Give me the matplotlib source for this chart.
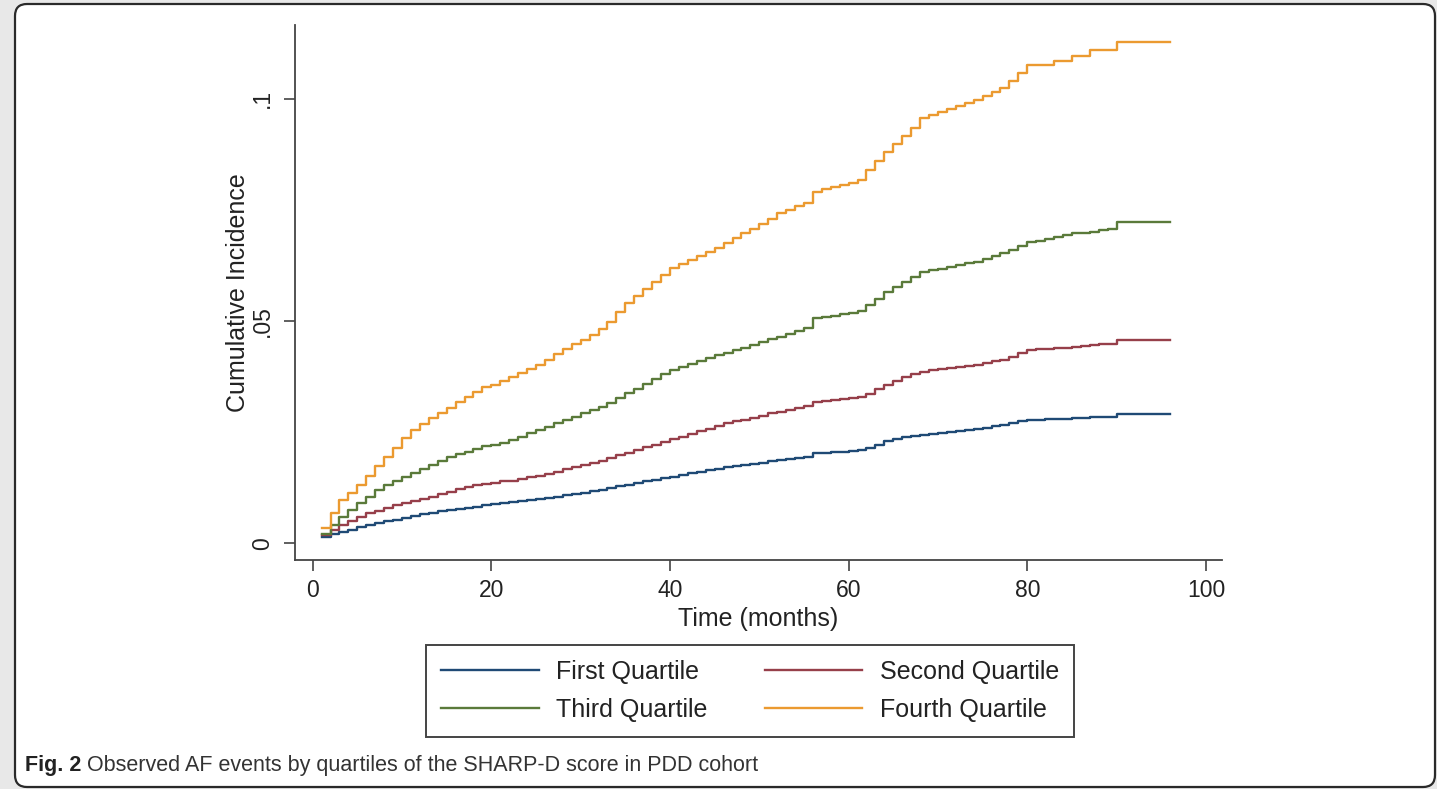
import numpy as np
import matplotlib
matplotlib.use('Agg')
import matplotlib.pyplot as plt
from matplotlib.patches import FancyBboxPatch
from matplotlib.transforms import IdentityTransform

plt.rcParams['font.family'] = ['Liberation Sans', 'DejaVu Sans']

# 随访月份 1..96
months = np.arange(1, 97)

# 各四分位组的累计发生率（逐月）
q1_first = [
    0.0015, 0.0020, 0.0026, 0.0031, 0.0036, 0.0041, 0.0045, 0.0049, 0.0053, 0.0057,
    0.0061, 0.0065, 0.0069, 0.0072, 0.0074, 0.0077, 0.0079, 0.0082, 0.0085, 0.0088,
    0.0090, 0.0092, 0.0094, 0.0097, 0.0099, 0.0102, 0.0105, 0.0108, 0.0111, 0.0114,
    0.0117, 0.0120, 0.0124, 0.0128, 0.0132, 0.0136, 0.0140, 0.0143, 0.0146, 0.0150,
    0.0153, 0.0157, 0.0160, 0.0164, 0.0168, 0.0172, 0.0174, 0.0176, 0.0179, 0.0181,
    0.0184, 0.0187, 0.0189, 0.0191, 0.0193, 0.0202, 0.0203, 0.0205, 0.0206, 0.0207,
    0.0209, 0.0215, 0.0222, 0.0229, 0.0234, 0.0239, 0.0242, 0.0244, 0.0246, 0.0248,
    0.0250, 0.0252, 0.0254, 0.0256, 0.0260, 0.0263, 0.0266, 0.0270, 0.0274, 0.0277,
    0.0278, 0.0279, 0.0280, 0.0280, 0.0281, 0.0282, 0.0283, 0.0284, 0.0285, 0.0290,
    0.0290, 0.0290, 0.0290, 0.0290, 0.0290, 0.0290,
]
q2_second = [
    0.0019, 0.0030, 0.0041, 0.0050, 0.0059, 0.0067, 0.0073, 0.0079, 0.0085, 0.0091,
    0.0096, 0.0100, 0.0105, 0.0110, 0.0115, 0.0121, 0.0126, 0.0130, 0.0133, 0.0136,
    0.0139, 0.0141, 0.0144, 0.0148, 0.0151, 0.0156, 0.0161, 0.0166, 0.0171, 0.0176,
    0.0181, 0.0186, 0.0192, 0.0198, 0.0204, 0.0210, 0.0216, 0.0222, 0.0228, 0.0234,
    0.0240, 0.0246, 0.0252, 0.0258, 0.0264, 0.0270, 0.0274, 0.0278, 0.0282, 0.0287,
    0.0292, 0.0296, 0.0300, 0.0304, 0.0308, 0.0318, 0.0320, 0.0322, 0.0324, 0.0326,
    0.0328, 0.0335, 0.0346, 0.0356, 0.0365, 0.0375, 0.0381, 0.0386, 0.0389, 0.0391,
    0.0394, 0.0396, 0.0399, 0.0401, 0.0405, 0.0409, 0.0412, 0.0420, 0.0428, 0.0435,
    0.0436, 0.0437, 0.0439, 0.0440, 0.0442, 0.0444, 0.0446, 0.0448, 0.0449, 0.0457,
    0.0457, 0.0457, 0.0457, 0.0457, 0.0457, 0.0457,
]
q3_third = [
    0.0022, 0.0042, 0.0060, 0.0075, 0.0090, 0.0105, 0.0120, 0.0130, 0.0140, 0.0149,
    0.0157, 0.0168, 0.0177, 0.0186, 0.0195, 0.0200, 0.0206, 0.0212, 0.0218, 0.0222,
    0.0225, 0.0232, 0.0240, 0.0247, 0.0255, 0.0262, 0.0270, 0.0277, 0.0285, 0.0292,
    0.0299, 0.0307, 0.0316, 0.0326, 0.0337, 0.0348, 0.0359, 0.0369, 0.0380, 0.0390,
    0.0397, 0.0404, 0.0411, 0.0417, 0.0423, 0.0428, 0.0434, 0.0440, 0.0446, 0.0452,
    0.0459, 0.0465, 0.0471, 0.0478, 0.0484, 0.0506, 0.0509, 0.0512, 0.0515, 0.0518,
    0.0522, 0.0535, 0.0550, 0.0566, 0.0577, 0.0588, 0.0600, 0.0611, 0.0615, 0.0618,
    0.0622, 0.0626, 0.0630, 0.0633, 0.0640, 0.0646, 0.0652, 0.0660, 0.0669, 0.0678,
    0.0680, 0.0684, 0.0690, 0.0693, 0.0697, 0.0699, 0.0701, 0.0704, 0.0707, 0.0722,
    0.0722, 0.0722, 0.0722, 0.0722, 0.0722, 0.0722,
]
q4_fourth = [
    0.0034, 0.0067, 0.0097, 0.0112, 0.0130, 0.0152, 0.0173, 0.0195, 0.0215, 0.0236,
    0.0255, 0.0268, 0.0281, 0.0292, 0.0305, 0.0317, 0.0330, 0.0341, 0.0352, 0.0356,
    0.0364, 0.0373, 0.0382, 0.0392, 0.0402, 0.0412, 0.0425, 0.0438, 0.0448, 0.0458,
    0.0468, 0.0483, 0.0498, 0.0520, 0.0540, 0.0556, 0.0572, 0.0588, 0.0604, 0.0619,
    0.0628, 0.0637, 0.0646, 0.0655, 0.0664, 0.0675, 0.0686, 0.0697, 0.0708, 0.0719,
    0.0730, 0.0742, 0.0750, 0.0758, 0.0765, 0.0791, 0.0796, 0.0801, 0.0806, 0.0811,
    0.0817, 0.0840, 0.0860, 0.0881, 0.0898, 0.0915, 0.0935, 0.0956, 0.0963, 0.0970,
    0.0977, 0.0984, 0.0991, 0.0997, 0.1006, 0.1015, 0.1023, 0.1040, 0.1058, 0.1076,
    0.1076, 0.1076, 0.1085, 0.1085, 0.1096, 0.1096, 0.1110, 0.1110, 0.1110, 0.1127,
    0.1127, 0.1127, 0.1127, 0.1127, 0.1127, 0.1127,
]

labels = ['First Quartile', 'Second Quartile', 'Third Quartile', 'Fourth Quartile']
colors = ['#1f4a75', '#963f4a', '#5a7a3a', '#eb9a30']

x_ticks = [0, 20, 40, 60, 80, 100]
y_ticks = [0, 0.05, 0.1]
y_tick_labels = ['0', '.05', '.1']

caption_bold = 'Fig. 2'
caption_text = 'Observed AF events by quartiles of the SHARP-D score in PDD cohort'

W, H = 1437, 789
fig = plt.figure(figsize=(W / 100, H / 100), dpi=100)
fig.patch.set_facecolor('#e8e8e8')

# 外框（圆角），放在坐标轴下面
frame = FancyBboxPatch((15, 2), 1420, 783, boxstyle='round,pad=0,rounding_size=12',
                       transform=IdentityTransform(), facecolor='white',
                       edgecolor='#2a2a2a', linewidth=1.6, zorder=-5)
fig.patches.append(frame)

ax = fig.add_axes([295 / W, 1 - 560 / H, (1222 - 295) / W, (560 - 25) / H])
ax.set_facecolor('none')
ax.set_zorder(2)

series = [q1_first, q2_second, q3_third, q4_fourth]
lines = []
for vals, lab, col in zip(series, labels, colors):
    ln, = ax.step(months, vals, where='post', color=col, linewidth=1.7, label=lab)
    lines.append(ln)

ax.set_xlim(-1.98, 101.8)
ax.set_ylim(-0.00376, 0.11658)
ax.set_xticks(x_ticks)
ax.set_yticks(y_ticks)
ax.set_yticklabels(y_tick_labels, rotation=90, va='center')

for side in ['top', 'right']:
    ax.spines[side].set_visible(False)
for side in ['left', 'bottom']:
    ax.spines[side].set_color('#444444')
    ax.spines[side].set_linewidth(1.3)

ax.tick_params(axis='both', colors='#444444', labelcolor='#222222', labelsize=16.5,
               length=8, width=1.2)
ax.tick_params(axis='x', pad=6)
ax.tick_params(axis='y', pad=7)

ax.set_xlabel('Time (months)', fontsize=18, color='#222222', labelpad=3)
ax.set_ylabel('Cumulative Incidence', fontsize=18, color='#222222', labelpad=0.5)

# 图例按行排列：第一行 First/Second，第二行 Third/Fourth
order = [0, 2, 1, 3]
leg = fig.legend(handles=[lines[i] for i in order], labels=[labels[i] for i in order],
                 ncol=2, loc='upper left',
                 bbox_to_anchor=(426 / W, 1 - 645 / H), borderaxespad=0,
                 fontsize=18, frameon=True, fancybox=False, framealpha=1,
                 edgecolor='#444444', handlelength=3.9, handletextpad=0.7,
                 columnspacing=2.3, labelspacing=0.55, borderpad=0.6)
leg.get_frame().set_linewidth(1.4)
leg.set_zorder(3)
for t in leg.get_texts():
    t.set_color('#222222')

# 图注：粗体编号后接说明文字
cap_y = 1 - 766 / H
t_bold = fig.text(25 / W, cap_y, caption_bold, fontsize=15.5, fontweight='bold',
                  color='#222222', va='center')
fig.canvas.draw()
bb = t_bold.get_window_extent()
fig.text((bb.x1 + 6) / W, cap_y, caption_text, fontsize=15.5, color='#333333', va='center')

fig.savefig('out.png', dpi=100)
